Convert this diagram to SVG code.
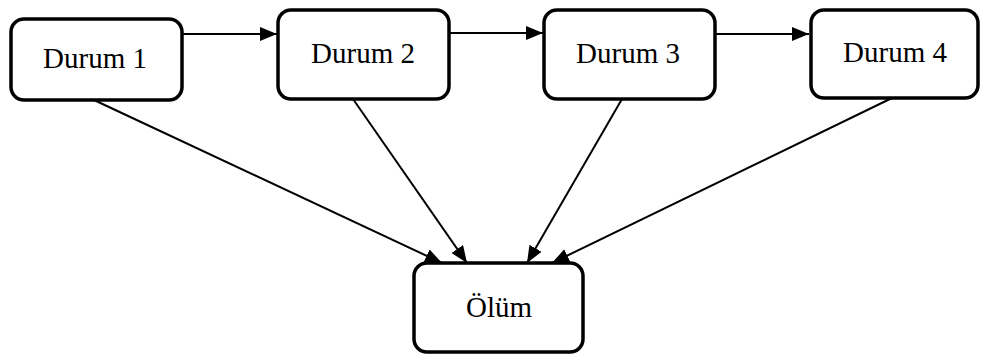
<svg xmlns="http://www.w3.org/2000/svg" width="981" height="356" viewBox="0 0 981 356">
  <style>
    .box { fill: #ffffff; stroke: #000000; stroke-width: 3.5; }
    .label { font-family: "Liberation Serif", "Times New Roman", serif; font-size: 29px; fill: #000000; text-anchor: middle; }
    .edge { stroke: #000000; stroke-width: 2; fill: none; marker-end: url(#arrow); }
  </style>
  <defs>
    <marker id="arrow" markerUnits="userSpaceOnUse" markerWidth="18" markerHeight="15" refX="17" refY="7" orient="auto">
      <path d="M0,0 L17,7 L0,14 Z" fill="#000000"/>
    </marker>
  </defs>
  <rect width="981" height="356" fill="#ffffff"/>

  <g id="connectors">
    <line class="edge" x1="182" y1="34" x2="277" y2="34"/>
    <line class="edge" x1="449" y1="33" x2="543" y2="33"/>
    <line class="edge" x1="715" y1="34" x2="809" y2="34"/>
    <line class="edge" x1="94" y1="100" x2="442" y2="263"/>
    <line class="edge" x1="353" y1="99" x2="467" y2="263"/>
    <line class="edge" x1="622" y1="99" x2="527" y2="263"/>
    <line class="edge" x1="892" y1="98" x2="552" y2="263"/>
  </g>

  <g id="durum1">
    <rect class="box" x="11" y="19" width="171" height="81" rx="13"/>
    <text class="label" x="95" y="68">Durum 1</text>
  </g>
  <g id="durum2">
    <rect class="box" x="278" y="10" width="171" height="89" rx="13"/>
    <text class="label" x="363" y="63">Durum 2</text>
  </g>
  <g id="durum3">
    <rect class="box" x="544" y="10" width="171" height="89" rx="13"/>
    <text class="label" x="628" y="63">Durum 3</text>
  </g>
  <g id="durum4">
    <rect class="box" x="811" y="10" width="167" height="88" rx="13"/>
    <text class="label" x="895" y="62">Durum 4</text>
  </g>
  <g id="olum">
    <rect class="box" x="414" y="263" width="169" height="89" rx="13"/>
    <text class="label" x="499" y="317">Ölüm</text>
  </g>
</svg>
